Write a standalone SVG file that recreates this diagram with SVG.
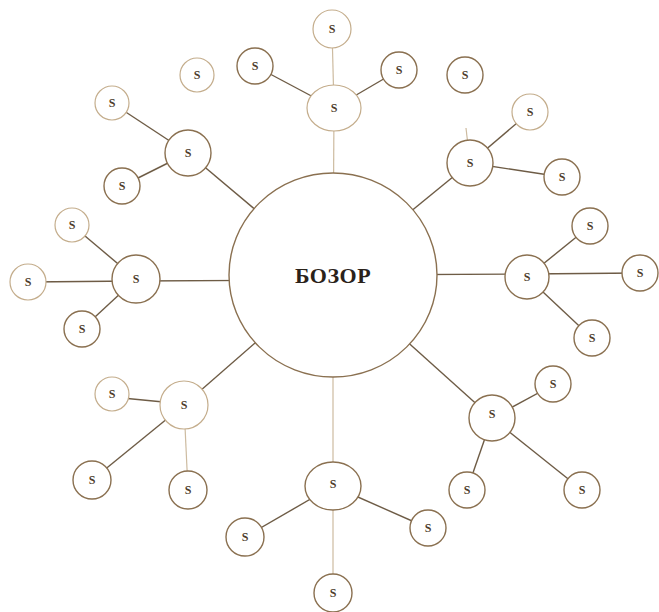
<svg xmlns="http://www.w3.org/2000/svg" width="659" height="612" viewBox="0 0 659 612">
<style>
.c{fill:#fff;stroke:#8a7050;stroke-width:1.4}
.f{fill:#fff;stroke:#c4ad8c;stroke-width:1.2}
.l{stroke:#6e5c46;stroke-width:1.4;fill:none}
.lf{stroke:#cdbba0;stroke-width:1.2;fill:none}
.s{font-family:"Liberation Serif",serif;font-size:12px;font-weight:bold;fill:#4d3d2c;text-anchor:middle;dominant-baseline:central}
.t{font-family:"Liberation Serif",serif;font-size:22px;font-weight:bold;fill:#2a221a;text-anchor:middle;dominant-baseline:central;letter-spacing:0.5px}
</style>
<rect width="659" height="612" fill="#fff"/>
<g id="connectors">
<line class="lf" x1="333" y1="275" x2="334" y2="108"/>
<line class="lf" x1="334" y1="108" x2="332" y2="29"/>
<line class="l" x1="334" y1="108" x2="255" y2="66"/>
<line class="l" x1="334" y1="108" x2="399" y2="70"/>
<line class="l" x1="333" y1="275" x2="188" y2="153"/>
<line class="l" x1="188" y1="153" x2="112" y2="103"/>
<line class="l" x1="188" y1="153" x2="122" y2="186"/>
<line class="l" x1="333" y1="275" x2="470" y2="163"/>
<line class="lf" x1="470" y1="163" x2="466" y2="128"/>
<line class="l" x1="470" y1="163" x2="530" y2="112"/>
<line class="l" x1="470" y1="163" x2="562" y2="177"/>
<line class="l" x1="333" y1="275" x2="527" y2="274"/>
<line class="l" x1="527" y1="277" x2="590" y2="226"/>
<line class="l" x1="527" y1="274" x2="640" y2="273"/>
<line class="l" x1="527" y1="277" x2="592" y2="338"/>
<line class="l" x1="333" y1="280" x2="136" y2="281"/>
<line class="l" x1="136" y1="279" x2="72" y2="225"/>
<line class="l" x1="136" y1="281" x2="28" y2="282"/>
<line class="l" x1="136" y1="279" x2="82" y2="329"/>
<line class="l" x1="333" y1="275" x2="184" y2="405"/>
<line class="l" x1="184" y1="404" x2="112" y2="397"/>
<line class="l" x1="184" y1="405" x2="92" y2="480"/>
<line class="lf" x1="184" y1="405" x2="188" y2="490"/>
<line class="lf" x1="333" y1="275" x2="333" y2="486"/>
<line class="l" x1="333" y1="486" x2="245" y2="537"/>
<line class="l" x1="333" y1="486" x2="428" y2="528"/>
<line class="lf" x1="333" y1="486" x2="333" y2="593"/>
<line class="l" x1="333" y1="275" x2="492" y2="418"/>
<line class="l" x1="492" y1="418" x2="553" y2="385"/>
<line class="l" x1="492" y1="418" x2="467" y2="490"/>
<line class="l" x1="492" y1="418" x2="582" y2="490"/>
</g>
<g id="center"><ellipse class="c" cx="333" cy="275" rx="104" ry="102"/><text class="t" x="333" y="275">БОЗОР</text></g>
<g id="top-hub"><ellipse class="f" cx="334" cy="108" rx="27" ry="23"/><text class="s" x="334" y="108">S</text></g>
<g id="top-1"><circle class="f" cx="332" cy="29" r="19"/><text class="s" x="332" y="29">S</text></g>
<g id="top-2"><circle class="c" cx="255" cy="66" r="18"/><text class="s" x="255" y="66">S</text></g>
<g id="top-3"><circle class="c" cx="399" cy="70" r="18"/><text class="s" x="399" y="70">S</text></g>
<g id="ul-hub"><circle class="c" cx="188" cy="153" r="23"/><text class="s" x="188" y="153">S</text></g>
<g id="ul-1"><circle class="f" cx="112" cy="103" r="17"/><text class="s" x="112" y="103">S</text></g>
<g id="ul-2"><circle class="f" cx="197" cy="75" r="17"/><text class="s" x="197" y="75">S</text></g>
<g id="ul-3"><circle class="c" cx="122" cy="186" r="18"/><text class="s" x="122" y="186">S</text></g>
<g id="ur-hub"><circle class="c" cx="470" cy="163" r="23"/><text class="s" x="470" y="163">S</text></g>
<g id="ur-1"><circle class="c" cx="465" cy="75" r="18"/><text class="s" x="465" y="75">S</text></g>
<g id="ur-2"><circle class="f" cx="530" cy="112" r="18"/><text class="s" x="530" y="112">S</text></g>
<g id="ur-3"><circle class="c" cx="562" cy="177" r="18"/><text class="s" x="562" y="177">S</text></g>
<g id="r-hub"><circle class="c" cx="527" cy="277" r="22"/><text class="s" x="527" y="277">S</text></g>
<g id="r-1"><circle class="c" cx="590" cy="226" r="18"/><text class="s" x="590" y="226">S</text></g>
<g id="r-2"><circle class="c" cx="640" cy="273" r="18"/><text class="s" x="640" y="273">S</text></g>
<g id="r-3"><circle class="c" cx="592" cy="338" r="18"/><text class="s" x="592" y="338">S</text></g>
<g id="l-hub"><circle class="c" cx="136" cy="279" r="24"/><text class="s" x="136" y="279">S</text></g>
<g id="l-1"><circle class="f" cx="72" cy="225" r="17"/><text class="s" x="72" y="225">S</text></g>
<g id="l-2"><circle class="f" cx="28" cy="282" r="18"/><text class="s" x="28" y="282">S</text></g>
<g id="l-3"><circle class="c" cx="82" cy="329" r="18"/><text class="s" x="82" y="329">S</text></g>
<g id="ll-hub"><circle class="f" cx="184" cy="405" r="24"/><text class="s" x="184" y="405">S</text></g>
<g id="ll-1"><circle class="f" cx="112" cy="394" r="17"/><text class="s" x="112" y="394">S</text></g>
<g id="ll-2"><circle class="c" cx="92" cy="480" r="19"/><text class="s" x="92" y="480">S</text></g>
<g id="ll-3"><circle class="c" cx="188" cy="490" r="19"/><text class="s" x="188" y="490">S</text></g>
<g id="b-hub"><ellipse class="c" cx="333" cy="486" rx="28" ry="24"/><text class="s" x="333" y="484">S</text></g>
<g id="b-1"><circle class="c" cx="245" cy="537" r="19"/><text class="s" x="245" y="537">S</text></g>
<g id="b-2"><circle class="c" cx="428" cy="528" r="18"/><text class="s" x="428" y="528">S</text></g>
<g id="b-3"><circle class="c" cx="333" cy="593" r="19"/><text class="s" x="333" y="593">S</text></g>
<g id="lr-hub"><circle class="c" cx="492" cy="418" r="23"/><text class="s" x="492" y="414">S</text></g>
<g id="lr-1"><circle class="c" cx="553" cy="384" r="18"/><text class="s" x="553" y="384">S</text></g>
<g id="lr-2"><circle class="c" cx="467" cy="490" r="18"/><text class="s" x="467" y="490">S</text></g>
<g id="lr-3"><circle class="c" cx="582" cy="490" r="18"/><text class="s" x="582" y="490">S</text></g>
</svg>
